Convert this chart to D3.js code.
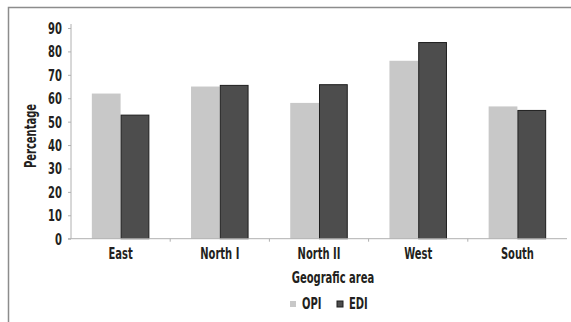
<!DOCTYPE html>
<html>
<head>
<meta charset="utf-8">
<script src="https://cdn.jsdelivr.net/npm/d3@7"></script>
<style>
  html, body { margin: 0; padding: 0; background: #fff; }
  svg { display: block; }
  text { font-family: "DejaVu Sans Condensed", "Liberation Sans Narrow", sans-serif; font-weight: bold; fill: #231f20; }
</style>
</head>
<body>
<svg id="chart" width="571" height="322"></svg>
<script>
// Share of respondents by geographic area
const categories = ["East", "North I", "North II", "West", "South"];
const seriesNames = ["OPI", "EDI"];
const opiValues = [62, 65, 58, 76, 56.5];
const ediValues = [53, 65.7, 66, 84, 55];
const yTicks = [0, 10, 20, 30, 40, 50, 60, 70, 80, 90];

const colors = { OPI: "#c8c8c8", EDI: "#4d4d4d" };
const rows = categories.map((c, i) => ({ cat: c, OPI: opiValues[i], EDI: ediValues[i] }));

const FONT_SIZE = "15px";
const SQUEEZE = 0.74; // horizontal compression for a narrow face

const svg = d3.select("#chart");

// place a text at (px, py) with horizontal compression
function narrow(sel, px, py, rot) {
  sel.attr("x", 0).attr("y", 0)
    .attr("transform", `translate(${px},${py})${rot ? ` rotate(${rot})` : ""} scale(${SQUEEZE},1)`)
    .style("font-size", FONT_SIZE);
}

// outer frame (top and left edges)
svg.append("path")
  .attr("d", "M8.5,322 L8.5,7.5 L571,7.5")
  .attr("fill", "none")
  .attr("stroke", "#8c8c8c")
  .attr("stroke-width", 1.5);

const plot = { left: 71, right: 567, top: 28, bottom: 238.7 };

const x0 = d3.scaleBand().domain(categories).range([plot.left, plot.right]);
const x = d3.scaleBand().domain(categories).range([plot.left, plot.right]).paddingInner(0.42).paddingOuter(0.21);
const xs = d3.scaleBand().domain(seriesNames).range([0, x.bandwidth()]);
const y = d3.scaleLinear().domain([0, 90]).range([plot.bottom, plot.top]);

// bars
const groups = svg.append("g").selectAll("g").data(rows).join("g")
  .attr("transform", d => `translate(${x0(d.cat) + (x0.bandwidth() - x.bandwidth()) / 2},0)`);

groups.selectAll("rect").data(d => seriesNames.map(s => ({ s, v: d[s] }))).join("rect")
  .attr("x", d => xs(d.s) + (d.s === "EDI" ? 0.5 : 0))
  .attr("y", d => y(d.v) + (d.s === "EDI" ? 0.5 : 0))
  .attr("width", d => xs.bandwidth() - (d.s === "EDI" ? 1 : 0))
  .attr("height", d => plot.bottom - y(d.v) - (d.s === "EDI" ? 0.5 : 0))
  .attr("fill", d => colors[d.s])
  .attr("stroke", d => d.s === "EDI" ? "#1e1e1e" : "none")
  .attr("stroke-width", 1);

// y axis
const yAxis = svg.append("g")
  .attr("transform", `translate(${plot.left},0)`)
  .call(d3.axisLeft(y).tickValues(yTicks).tickSize(3).tickPadding(6));
yAxis.select(".domain").attr("stroke", "#b0b0b0").attr("d", `M-3,${plot.bottom}H0V${plot.top - 4}`);
yAxis.selectAll(".tick line").attr("stroke", "#b0b0b0");
yAxis.selectAll(".tick text").attr("fill", "#231f20").attr("dy", "0.36em")
  .each(function () { narrow(d3.select(this), -9, 0); });

// x axis
const xAxis = svg.append("g")
  .attr("transform", `translate(0,${plot.bottom})`)
  .call(d3.axisBottom(x0).tickSize(0).tickPadding(9));
xAxis.select(".domain").attr("stroke", "#b0b0b0").attr("d", `M${plot.left},0H${plot.right}`);
xAxis.selectAll(".tick text").attr("fill", "#231f20").attr("dy", "0")
  .each(function () { narrow(d3.select(this), 0, 20); });
// category separators
xAxis.append("g").selectAll("line").data(categories.slice(1)).join("line")
  .attr("x1", d => x0(d)).attr("x2", d => x0(d))
  .attr("y1", 0).attr("y2", 3).attr("stroke", "#b0b0b0");

// axis titles
svg.append("text")
  .attr("text-anchor", "middle")
  .call(narrow, 36, 136, -90)
  .attr("transform", `translate(36,136) rotate(-90) scale(${SQUEEZE},1)`)
  .text("Percentage");

svg.append("text")
  .attr("text-anchor", "middle")
  .call(narrow, 333, 283)
  .text("Geografic area");

// legend
const legend = svg.append("g").attr("transform", "translate(290,307)");
const li = legend.selectAll("g").data(seriesNames).join("g")
  .attr("transform", (d, i) => `translate(${i * 47},0)`);
li.append("rect")
  .attr("x", 0).attr("y", -6).attr("width", 6).attr("height", 6)
  .attr("fill", d => colors[d])
  .attr("stroke", d => d === "EDI" ? "#1e1e1e" : "none");
li.append("text")
  .call(narrow, 12, 2)
  .text(d => d);
</script>
</body>
</html>
